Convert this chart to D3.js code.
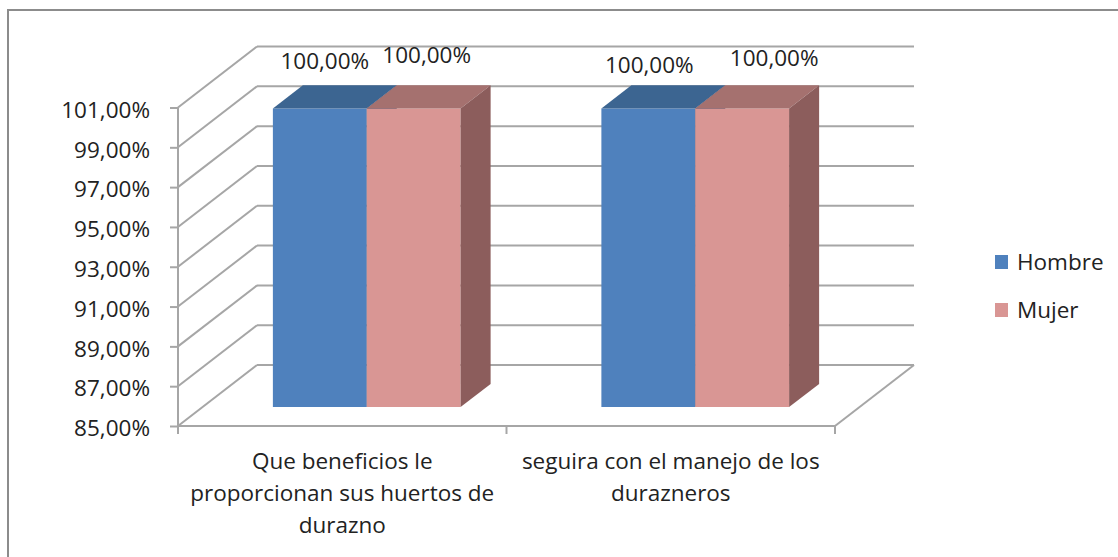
<!DOCTYPE html>
<html>
<head>
<meta charset="utf-8">
<script src="https://cdn.jsdelivr.net/npm/d3@7"></script>
<style>
  html, body { margin: 0; padding: 0; background: #fff; }
  svg { display: block; font-family: "Open Sans", "Liberation Sans", sans-serif; }
</style>
</head>
<body>
<svg id="chart" width="1118" height="557"></svg>
<script>
// ---- data ----
const categories = ["Que beneficios le proporcionan sus huertos de durazno", "seguira con el manejo de los durazneros"];
const categoryLines = [["Que beneficios le", "proporcionan sus huertos de", "durazno"], ["seguira con el manejo de los", "durazneros"]];
const seriesNames = ["Hombre", "Mujer"];
const hombre = [1.00, 1.00];
const mujer = [1.00, 1.00];
const tickValues = [0.85, 0.87, 0.89, 0.91, 0.93, 0.95, 0.97, 0.99, 1.01];
const tickLabels = ["85,00%", "87,00%", "89,00%", "91,00%", "93,00%", "95,00%", "97,00%", "99,00%", "101,00%"];

// ---- layout / style ----
const W = 1118, H = 557;
const plotLeft = 178, plotRight = 835, plotTop = 107.5, plotBottom = 426;
const depthDX = 79, depthDY = -61;
const barFrontZ = 0.31, barBackZ = 0.69;
const gridColor = "#a6a6a6";
const fontSize = 22.5;
const colors = {
  Hombre: { front: "#4f81bd", top: "#3c6591", side: "#34557c" },
  Mujer:  { front: "#d99694", top: "#a5716f", side: "#8c5d5c" }
};
const labelNudge = [[-10, -16], [-2, -22], [-14, -12], [17, -19]];

const svg = d3.select("#chart");
svg.append("rect").attr("width", W).attr("height", H).attr("fill", "#fff");
// outer frame
svg.append("rect").attr("x", 8).attr("y", 10).attr("width", W + 20).attr("height", H + 20)
  .attr("fill", "none").attr("stroke", "#8c8c8c").attr("stroke-width", 2);

const y = d3.scaleLinear().domain([0.85, 1.01]).range([plotBottom, plotTop]);
const x0 = d3.scaleBand().domain(categories).range([plotLeft, plotRight]);
const xs = d3.scaleBand().domain(seriesNames).range([0, x0.bandwidth()]).paddingInner(0).paddingOuter(0.75);
const z = d3.scaleLinear().domain([0, 1]).range([0, 1]);
const proj = (px, py, pz) => [px + z(pz) * depthDX, py + z(pz) * depthDY];
const locale = d3.formatLocale({ decimal: ",", thousands: ".", grouping: [3], currency: ["", "€"] });
const fmt = locale.format(".2%");

const g = svg.append("g");
const line = (a, b) => g.append("line")
  .attr("x1", a[0]).attr("y1", a[1]).attr("x2", b[0]).attr("y2", b[1])
  .attr("stroke", gridColor).attr("stroke-width", 2);

// back wall gridlines + left wall diagonals
tickValues.forEach(v => {
  const yy = y(v);
  line(proj(plotLeft, yy, 1), proj(plotRight, yy, 1));
  line(proj(plotLeft, yy, 0), proj(plotLeft, yy, 1));
});
// floor right edge
line(proj(plotRight, y(0.85), 0), proj(plotRight, y(0.85), 1));

// front axes
const yAxis = d3.axisLeft(y).tickValues(tickValues).tickSize(8).tickPadding(20)
  .tickFormat((d, i) => tickLabels[i]);
const yAxisG = svg.append("g").attr("transform", `translate(${plotLeft},0)`).call(yAxis);
yAxisG.select(".domain").attr("stroke", gridColor).attr("stroke-width", 2).attr("d", `M0,${plotTop}V${plotBottom}`);
yAxisG.selectAll(".tick line").attr("stroke", gridColor).attr("stroke-width", 2);
yAxisG.selectAll(".tick text").attr("font-size", fontSize).attr("fill", "#222").attr("dy", "0.43em")
  .attr("font-family", "Open Sans");

const xAxis = d3.axisBottom(x0).tickSize(0).tickFormat("");
const xAxisG = svg.append("g").attr("transform", `translate(0,${plotBottom})`).call(xAxis);
xAxisG.select(".domain").attr("stroke", gridColor).attr("stroke-width", 2).attr("d", `M${plotLeft},0H${plotRight}`);
const xTicks = [plotLeft].concat(categories.map(c => x0(c) + x0.bandwidth()));
xTicks.forEach(t => {
  xAxisG.append("line").attr("x1", t).attr("x2", t).attr("y1", 0).attr("y2", 8)
    .attr("stroke", gridColor).attr("stroke-width", 2);
});

// category labels
categories.forEach((c, i) => {
  const cx = x0(c) + x0.bandwidth() / 2;
  const t = svg.append("text").attr("text-anchor", "middle").attr("font-size", fontSize).attr("fill", "#222");
  categoryLines[i].forEach((ln, j) => {
    t.append("tspan").attr("x", cx).attr("y", plotBottom + 43 + j * 32).text(ln);
  });
});

// bars
const series = [{ name: "Hombre", values: hombre }, { name: "Mujer", values: mujer }];
const pts = a => a.map(p => p.join(",")).join(" ");
const barsG = svg.append("g");
const labelData = [];
categories.forEach((c, ci) => {
  series.forEach((s, si) => {
    const v = s.values[ci];
    const xl = x0(c) + xs(s.name), xr = xl + xs.bandwidth();
    const yt = y(v), yb = y(0.85);
    const col = colors[s.name];
    barsG.append("polygon").attr("points", pts([proj(xl, yt, barFrontZ), proj(xr, yt, barFrontZ), proj(xr, yb, barFrontZ), proj(xl, yb, barFrontZ)])).attr("fill", col.front);
    barsG.append("polygon").attr("points", pts([proj(xl, yt, barFrontZ), proj(xr, yt, barFrontZ), proj(xr, yt, barBackZ), proj(xl, yt, barBackZ)])).attr("fill", col.top);
    barsG.append("polygon").attr("points", pts([proj(xr, yt, barFrontZ), proj(xr, yt, barBackZ), proj(xr, yb, barBackZ), proj(xr, yb, barFrontZ)])).attr("fill", col.side);
    const c0 = proj((xl + xr) / 2, yt, 0.5);
    const top = proj(xl, yt, barBackZ);
    labelData.push({ x: c0[0], y: top[1], v });
  });
});
labelData.forEach((d, i) => {
  svg.append("text").attr("x", d.x + labelNudge[i][0]).attr("y", d.y + labelNudge[i][1])
    .attr("text-anchor", "middle").attr("font-size", fontSize).attr("fill", "#222").text(fmt(d.v));
});

// legend
const legend = svg.append("g");
seriesNames.forEach((n, i) => {
  const ly = 255 + i * 48;
  legend.append("rect").attr("x", 995).attr("y", ly).attr("width", 13).attr("height", 14).attr("fill", colors[n].front);
  legend.append("text").attr("x", 1017).attr("y", ly + 15).attr("font-size", fontSize).attr("fill", "#222").text(n);
});
</script>
</body>
</html>
